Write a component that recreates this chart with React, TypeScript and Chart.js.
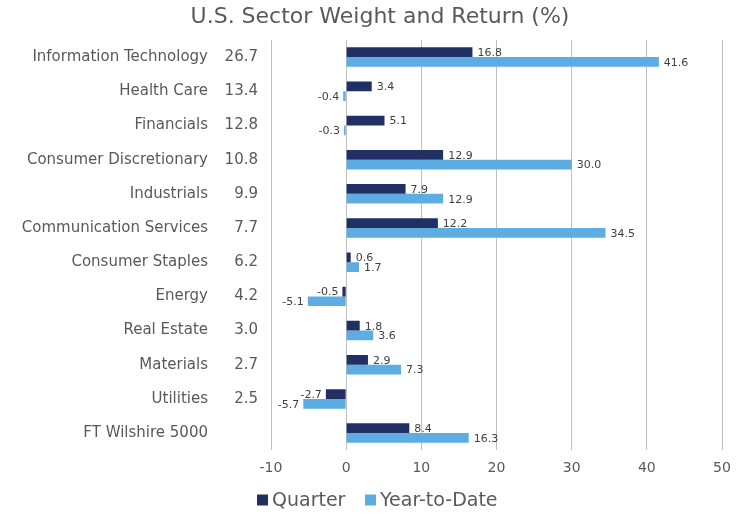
import React, { useEffect, useRef } from "react";
import { Chart, registerables } from "chart.js";

Chart.register(...registerables);

const categories = [
  "Information Technology",
  "Health Care",
  "Financials",
  "Consumer Discretionary",
  "Industrials",
  "Communication Services",
  "Consumer Staples",
  "Energy",
  "Real Estate",
  "Materials",
  "Utilities",
  "FT Wilshire 5000",
];
const weights = ["26.7", "13.4", "12.8", "10.8", "9.9", "7.7", "6.2", "4.2", "3.0", "2.7", "2.5", ""];
const quarter = [16.8, 3.4, 5.1, 12.9, 7.9, 12.2, 0.6, -0.5, 1.8, 2.9, -2.7, 8.4];
const ytd = [41.6, -0.4, -0.3, 30.0, 12.9, 34.5, 1.7, -5.1, 3.6, 7.3, -5.7, 16.3];
const seriesNames = ["Quarter", "Year-to-Date"];
const seriesColors = ["#203064", "#5DADE2"];
const titleText = "U.S. Sector Weight and Return (%)";
const xMin = -10;
const xMax = 50;
const xStep = 10;

const FONT = "'DejaVu Sans', Verdana, sans-serif";
const TEXT = "#595959";

const labelsPlugin = {
  id: "customLabels",
  afterDatasetsDraw(chart: any) {
    const ctx = chart.ctx;
    ctx.save();
    ctx.font = `11px ${FONT}`;
    ctx.fillStyle = "#404040";
    ctx.textBaseline = "middle";
    chart.data.datasets.forEach((ds: any, di: number) => {
      const meta = chart.getDatasetMeta(di);
      meta.data.forEach((el: any, i: number) => {
        const v = ds.data[i] as number;
        const txt = v.toFixed(1);
        if (v >= 0) {
          ctx.textAlign = "left";
          ctx.fillText(txt, el.x + 5, el.y + 1);
        } else {
          ctx.textAlign = "right";
          ctx.fillText(txt, el.x - 4, el.y + 1);
        }
      });
    });
    // y axis category labels with weights
    const yScale = chart.scales.y;
    ctx.font = `15px ${FONT}`;
    ctx.fillStyle = TEXT;
    ctx.textAlign = "right";
    categories.forEach((c, i) => {
      const y = yScale.getPixelForValue(i);
      ctx.fillText(c, 208, y);
      ctx.fillText(weights[i], 258, y);
    });
    // title
    ctx.font = `22px ${FONT}`;
    ctx.textAlign = "center";
    ctx.fillText(titleText, 380, 17);
    // legend
    ctx.font = `19px ${FONT}`;
    ctx.textAlign = "left";
    const ly = 500;
    const items = [
      { x: 257, tx: 272 },
      { x: 365, tx: 380 },
    ];
    items.forEach((it, i) => {
      ctx.fillStyle = seriesColors[i];
      ctx.fillRect(it.x, ly - 5.5, 11, 11);
      ctx.fillStyle = TEXT;
      ctx.fillText(seriesNames[i], it.tx, ly + 1);
    });
    ctx.restore();
  },
};

export default function App() {
  const ref = useRef<HTMLCanvasElement>(null);
  useEffect(() => {
    document.body.style.margin = "0";
    const chart = new Chart(ref.current!, {
      type: "bar",
      data: {
        labels: categories,
        datasets: [
          {
            label: seriesNames[0],
            data: quarter,
            backgroundColor: seriesColors[0],
            categoryPercentage: 0.57,
            barPercentage: 1.0,
          },
          {
            label: seriesNames[1],
            data: ytd,
            backgroundColor: seriesColors[1],
            categoryPercentage: 0.57,
            barPercentage: 1.0,
          },
        ],
      },
      options: {
        indexAxis: "y",
        animation: false,
        responsive: false,
        layout: { padding: { left: 0, right: 16, top: 40, bottom: 27 } },
        plugins: {
          title: { display: false },
          legend: { display: false },
          tooltip: { enabled: false },
        },
        scales: {
          x: {
            min: xMin,
            max: xMax,
            ticks: {
              stepSize: xStep,
              color: TEXT,
              font: { family: FONT, size: 14 },
              padding: 10,
            },
            grid: { color: "#BFBFBF", drawTicks: false },
            border: { display: false },
            afterFit: (scale: any) => {
              scale.paddingRight = 0;
              scale.paddingLeft = 0;
            },
          },
          y: {
            ticks: { display: false },
            grid: { display: false },
            border: { display: false },
            afterFit: (scale: any) => {
              scale.width = 271;
            },
          },
        },
      },
      plugins: [labelsPlugin],
    });
    return () => chart.destroy();
  }, []);
  return <canvas ref={ref} width={738} height={514} style={{ display: "block" }} />;
}
